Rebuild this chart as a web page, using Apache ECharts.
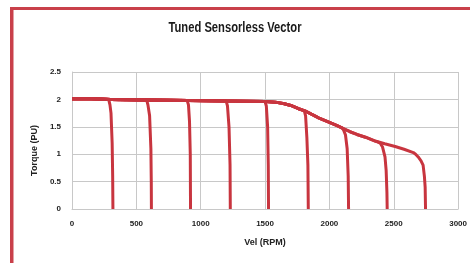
<!DOCTYPE html>
<html>
<head>
<meta charset="utf-8">
<script src="https://cdn.jsdelivr.net/npm/echarts@6/dist/echarts.min.js"></script>
<style>
    html, body { margin: 0; padding: 0; background: #fff; }
    #chart { width: 470px; height: 263px; }
</style>
</head>
<body>
<div id="chart"></div>
<script>
// 共用的包络线 (速度 RPM, 转矩 PU)
var envelope = [
    [0, 2.01], [150, 2.01], [300, 2.0], [450, 1.995], [600, 1.99], [750, 1.985],
    [900, 1.98], [1050, 1.975], [1200, 1.97], [1350, 1.965], [1500, 1.96],
    [1580, 1.95], [1650, 1.92], [1700, 1.89], [1760, 1.83], [1810, 1.79],
    [1860, 1.73], [1920, 1.66], [2000, 1.58], [2060, 1.52], [2104, 1.47],
    [2160, 1.41], [2214, 1.36], [2280, 1.31], [2356, 1.24], [2430, 1.19],
    [2511, 1.14], [2580, 1.09], [2652, 1.03]
];
// 各次运行在掉落处的曲线
var drop1 = [[285, 2.0], [295, 1.9], [303, 1.75], [312, 1.2], [316, 0.6], [318, 0]];
var drop2 = [[580, 1.99], [590, 1.9], [603, 1.7], [613, 1.1], [616, 0.5], [617, 0]];
var drop3 = [[895, 1.98], [905, 1.9], [913, 1.6], [919, 1.0], [921, 0]];
var drop4 = [[1198, 1.97], [1208, 1.88], [1220, 1.5], [1228, 0.8], [1230, 0]];
var drop5 = [[1500, 1.96], [1510, 1.88], [1520, 1.5], [1525, 0.8], [1527, 0]];
var drop6 = [[1805, 1.79], [1815, 1.7], [1825, 1.3], [1833, 0.8], [1836, 0]];
var drop7 = [[2100, 1.48], [2112, 1.43], [2125, 1.35], [2138, 1.1], [2146, 0.6], [2149, 0]];
var drop8 = [[2378, 1.22], [2395, 1.2], [2413, 1.13], [2432, 0.95], [2441, 0.7], [2447, 0.3], [2449, 0]];
var drop9 = [[2652, 1.03], [2670, 1.0], [2690, 0.95], [2712, 0.88], [2728, 0.8], [2738, 0.6], [2744, 0.4], [2747, 0]];
var drops = [drop1, drop2, drop3, drop4, drop5, drop6, drop7, drop8, drop9];

var xTicks = { min: 0, max: 3000, interval: 500 };
var yTicks = { min: 0, max: 2.5, interval: 0.5 };

var lineColor = '#c8353f';
var labelFont = '"Liberation Sans", Arial, sans-serif';

// 每次运行 = 包络线 (到掉落点之前) + 掉落曲线
function runData(drop) {
    var start = drop[0][0];
    var arr = [];
    for (var i = 0; i < envelope.length; i++) {
        if (envelope[i][0] < start) arr.push(envelope[i]);
    }
    return arr.concat(drop);
}

var series = [];
for (var i = 0; i < drops.length; i++) {
    series.push({
        type: 'line',
        data: runData(drops[i]),
        showSymbol: false,
        lineStyle: { color: lineColor, width: 3 },
        z: 3
    });
}

var myChart = echarts.init(document.getElementById('chart'));
myChart.setOption({
    animation: false,
    graphic: [
        // 外框 (红色)
        { type: 'rect', shape: { x: 10, y: 7, width: 460, height: 3 }, style: { fill: '#c9404a' } },
        { type: 'rect', shape: { x: 10, y: 7, width: 3.5, height: 256 }, style: { fill: '#c9404a' } },
        // 标题 (窄体字, 横向压缩)
        {
            type: 'text', x: 235, y: 28, scaleX: 0.8,
            style: {
                text: 'Tuned Sensorless Vector',
                font: 'bold 14px "Liberation Sans", Arial, sans-serif',
                fill: '#1a1a1a', align: 'center', verticalAlign: 'middle'
            }
        }
    ],
    grid: { left: 72, right: 10, top: 72, bottom: 54 },
    xAxis: {
        type: 'value',
        min: xTicks.min,
        max: xTicks.max,
        interval: xTicks.interval,
        name: 'Vel (RPM)',
        nameLocation: 'middle',
        nameGap: 29,
        nameTextStyle: { fontFamily: labelFont, fontSize: 9, fontWeight: 'bold', color: '#222' },
        axisLine: { show: true, lineStyle: { color: '#c8c8c8', width: 1 } },
        axisTick: { show: false },
        axisLabel: {
            fontFamily: labelFont, fontSize: 8, fontWeight: 'bold', color: '#222', margin: 11,
            formatter: function(v) { return String(v); }
        },
        splitLine: { show: true, lineStyle: { color: '#c8c8c8', width: 1 } }
    },
    yAxis: {
        type: 'value',
        min: yTicks.min,
        max: yTicks.max,
        interval: yTicks.interval,
        name: 'Torque (PU)',
        nameLocation: 'middle',
        nameGap: 32,
        nameRotate: 90,
        nameTextStyle: { fontFamily: labelFont, fontSize: 9, fontWeight: 'bold', color: '#222', padding: [0, 20, 0, 0] },
        axisLine: { show: true, lineStyle: { color: '#c8c8c8', width: 1 } },
        axisTick: { show: false },
        axisLabel: { fontFamily: labelFont, fontSize: 8, fontWeight: 'bold', color: '#222', margin: 11 },
        splitLine: { show: true, lineStyle: { color: '#c8c8c8', width: 1 } }
    },
    series: series
});
</script>
</body>
</html>
